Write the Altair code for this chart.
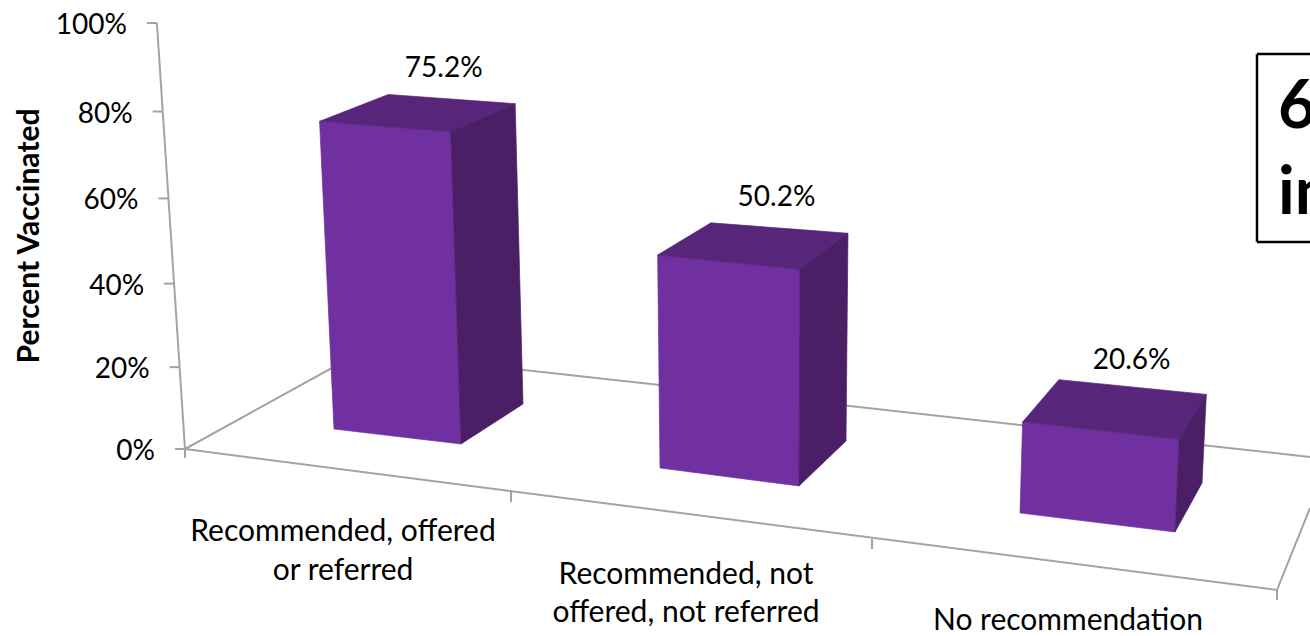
import altair as alt
import pandas as pd

# Chart content
categories = [
    ["Recommended, offered", "or referred"],
    ["Recommended, not", "offered, not referred"],
    ["No recommendation"],
]
percent_vaccinated = [75.2, 50.2, 20.6]
axis_ticks = [0, 20, 40, 60, 80, 100]
axis_title = "Percent Vaccinated"
callout_lines = ["6", "in"]

FONT = "Lato"
FRONT, TOP, SIDE = "#7030A0", "#57267B", "#4A1F66"
GRID = "#A3A3A3"
W, H = 1310, 636

# Floor footprint of each column in screen space: front-left, front-right,
# back-right, back-left.
footprints = [
    [(334, 429), (461, 444), (523, 404), (400, 391)],
    [(660, 468), (799, 486), (846, 441), (712, 428)],
    [(1020, 513), (1175, 532), (1202, 483), (1056, 467)],
]
# Offset of each value label from the centre of its column's back top edge.
label_offsets = [(-8, -30), (-3, -30), (-1, -26)]


def lift(point, value):
    """Raise a floor point by a percentage under the chart's oblique perspective."""
    x, y = point
    rise = value * 0.0039 * (y + 620)
    return (x + (x - 760) * 0.00011 * rise, y - rise)


def wall_y(value):
    return 449 - 4.05 * value - 0.0021 * value ** 2


def wall_x(value):
    return 185 - (449 - wall_y(value)) * 0.066


def convex_band(points):
    """Turn a convex polygon into x / upper / lower rows for an area mark."""
    xs = sorted({round(p[0], 3) for p in points})
    rows = []
    n = len(points)
    for x in xs:
        hits = []
        for i in range(n):
            (x0, y0), (x1, y1) = points[i], points[(i + 1) % n]
            lo, hi = min(x0, x1), max(x0, x1)
            if lo - 0.002 <= x <= hi + 0.002:
                if abs(x1 - x0) < 1e-6:
                    hits += [y0, y1]
                else:
                    hits.append(y0 + (y1 - y0) * (x - x0) / (x1 - x0))
        rows.append({"x": x, "y": min(hits), "y2": max(hits)})
    return rows


faces = []
value_labels = []
for i, (value, base, nudge) in enumerate(zip(percent_vaccinated, footprints, label_offsets)):
    fl, fr, br, bl = base
    tfl, tfr, tbr, tbl = [lift(p, value) for p in base]
    for name, shade, poly in [
        ("front", "front", [tfl, tfr, fr, fl]),
        ("top", "top", [tfl, tbl, tbr, tfr]),
        ("side", "side", [tfr, tbr, br, fr]),
    ]:
        for row in convex_band(poly):
            faces.append({**row, "face": f"{i}-{name}", "shade": shade})
    value_labels.append({
        "x": (tbl[0] + tbr[0]) / 2 + nudge[0],
        "y": (tbl[1] + tbr[1]) / 2 + nudge[1],
        "label": f"{value:.1f}%",
    })

# Floor outline, value wall and tick marks
segments = [
    {"x": wall_x(100), "y": wall_y(100), "x2": wall_x(0), "y2": wall_y(0)},
    {"x": 185, "y": 449, "x2": 1277, "y2": 590},
    {"x": 185, "y": 449, "x2": 361, "y2": 352},
    {"x": 361, "y": 352, "x2": 1310, "y2": 457},
    {"x": 1277, "y": 590, "x2": 1310, "y2": 508},
    {"x": 185, "y": 449, "x2": 185, "y2": 458},
    {"x": 511, "y": 492, "x2": 511, "y2": 502},
    {"x": 872, "y": 539, "x2": 872, "y2": 549},
    {"x": 1277, "y": 590, "x2": 1277, "y2": 600},
]
for t in axis_ticks:
    segments.append({"x": wall_x(t) - 10, "y": wall_y(t), "x2": wall_x(t), "y2": wall_y(t)})

tick_labels = [
    {"x": wall_x(t) - 30, "y": wall_y(t) + 3, "label": f"{t}%"} for t in axis_ticks
]

category_anchor = [(343, 532, 39), (686, 575, 38), (1068, 621, 38)]
category_rows = []
for lines, (cx, cy, step) in zip(categories, category_anchor):
    for j, line in enumerate(lines):
        category_rows.append({"x": cx, "y": cy + j * step, "label": line})

callout_frame = [
    {"x": 1257, "y": 54, "x2": 1310, "y2": 54},
    {"x": 1257, "y": 54, "x2": 1257, "y2": 242},
    {"x": 1257, "y": 242, "x2": 1310, "y2": 242},
]
callout_rows = [
    {"x": 1278, "y": y, "label": t} for t, y in zip(callout_lines, (108, 194))
]

x_scale = alt.Scale(domain=[0, W], nice=False, zero=False)
y_scale = alt.Scale(domain=[H, 0], nice=False, zero=False)
X = alt.X("x:Q", scale=x_scale, axis=None)
Y = alt.Y("y:Q", scale=y_scale, axis=None)
shade_scale = alt.Scale(domain=["front", "top", "side"], range=[FRONT, TOP, SIDE])


def rules(rows, color, width):
    return alt.Chart(pd.DataFrame(rows)).mark_rule(
        color=color, strokeWidth=width
    ).encode(X, Y, x2="x2:Q", y2="y2:Q")


def labels(rows, **style):
    return alt.Chart(pd.DataFrame(rows)).mark_text(
        font=FONT, baseline="middle", color="#000000", **style
    ).encode(X, Y, text="label:N")


bars = alt.Chart(pd.DataFrame(faces)).mark_area(opacity=1, strokeWidth=0.7).encode(
    X,
    Y,
    y2="y2:Q",
    detail="face:N",
    fill=alt.Fill("shade:N", scale=shade_scale, legend=None),
    stroke=alt.Stroke("shade:N", scale=shade_scale, legend=None),
)

title = labels(
    [{"x": 30, "y": 236, "label": axis_title}],
    fontSize=30, fontWeight="bold", angle=270, align="center",
)

chart = alt.layer(
    rules(segments, GRID, 2),
    bars,
    labels(tick_labels, fontSize=28, align="right"),
    labels(value_labels, fontSize=28, align="center"),
    labels(category_rows, fontSize=30, align="center"),
    title,
    rules(callout_frame, "#000000", 2.5),
    labels(callout_rows, fontSize=66, fontWeight="bold", align="left"),
).properties(
    width=W,
    height=H,
    padding=0,
    autosize=alt.AutoSizeParams(type="none"),
    background="#FFFFFF",
).configure_view(strokeWidth=0)

chart.save("out.html", embed_options={"renderer": "svg", "actions": False})
